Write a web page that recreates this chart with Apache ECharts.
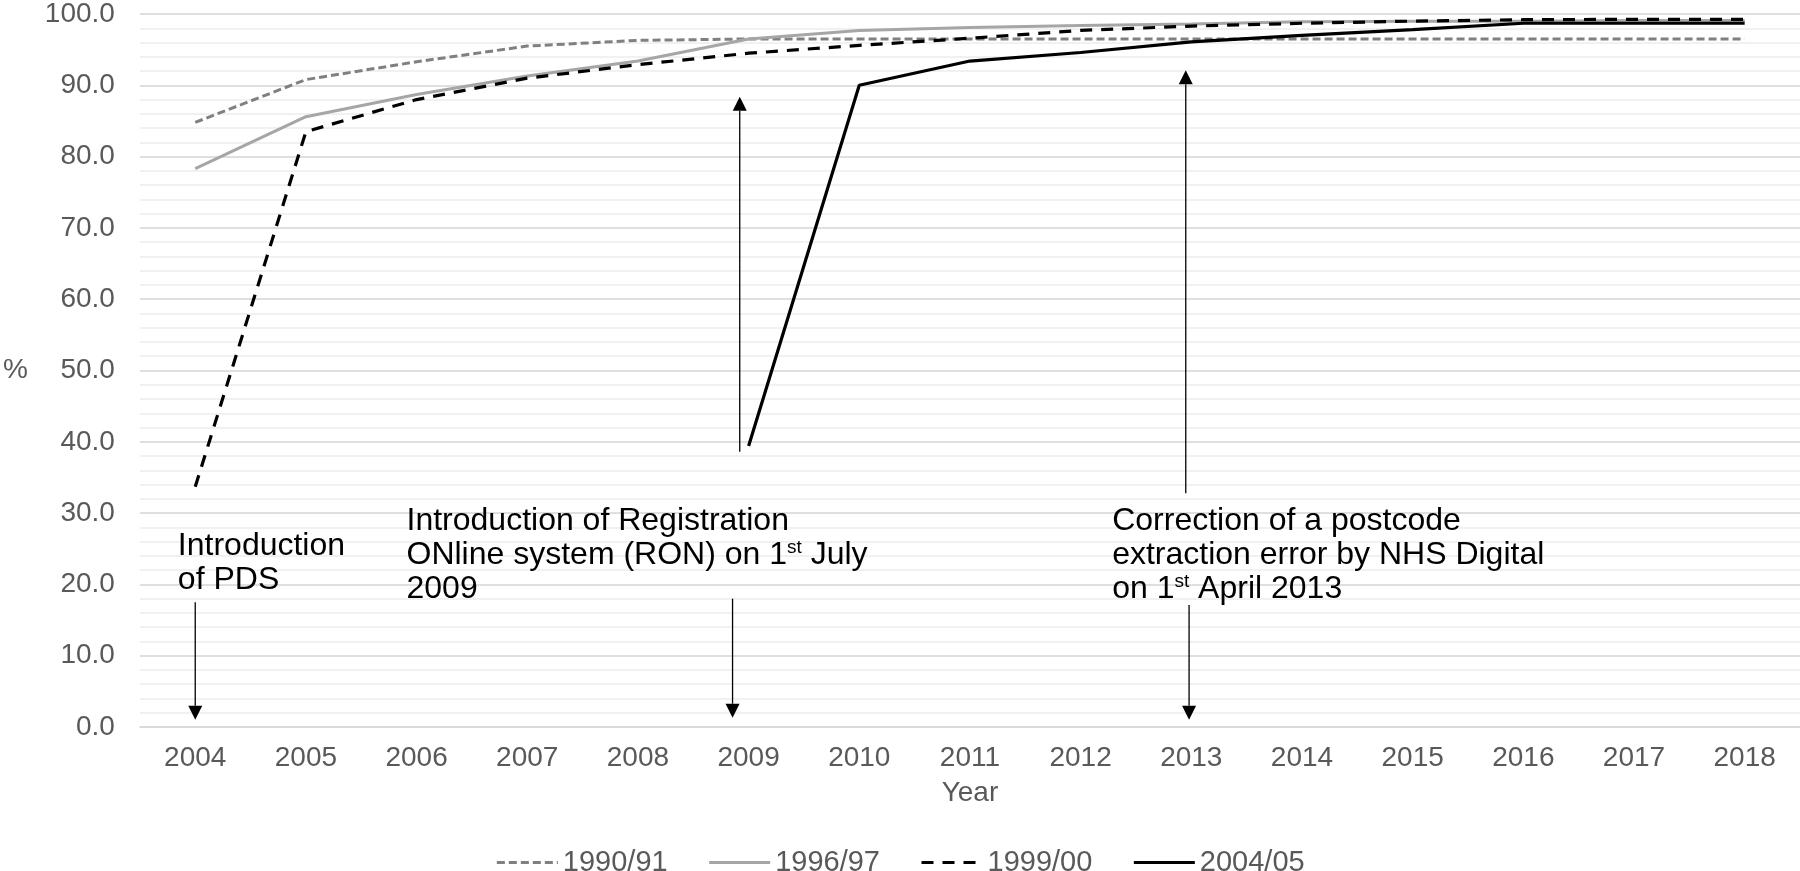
<!DOCTYPE html>
<html>
<head>
<meta charset="utf-8">
<title>Postcode completeness</title>
<script src="https://cdn.jsdelivr.net/npm/echarts@6/dist/echarts.min.js"></script>
<style>
  html, body { margin: 0; padding: 0; background: #fff; }
  #main { width: 1800px; height: 871px; }
</style>
</head>
<body>
<div id="main"></div>
<script>
const years = ['2004', '2005', '2006', '2007', '2008', '2009', '2010', '2011', '2012', '2013', '2014', '2015', '2016', '2017', '2018'];
const cohort1990 = [84.8, 90.8, 93.3, 95.5, 96.3, 96.5, 96.5, 96.5, 96.5, 96.5, 96.5, 96.5, 96.5, 96.5, 96.5];
const cohort1996 = [78.3, 85.6, 88.7, 91.3, 93.4, 96.5, 97.7, 98.1, 98.4, 98.6, 98.9, 99.0, 99.0, 99.1, 99.1];
const cohort1999 = [33.7, 83.5, 88.0, 91.0, 92.9, 94.5, 95.6, 96.6, 97.7, 98.3, 98.7, 99.0, 99.2, 99.25, 99.25];
const cohort2004 = [null, null, null, null, null, 39.4, 90.0, 93.4, 94.6, 96.1, 97.0, 97.8, 98.7, 98.7, 98.7];
const yTicks = [0, 10, 20, 30, 40, 50, 60, 70, 80, 90, 100];

const labelFont = 'Liberation Sans, Arial, Helvetica, sans-serif';
const grey = '#595959';

const chart = echarts.init(document.getElementById('main'));

const option = {
    animation: false,
    textStyle: { fontFamily: labelFont },
    grid: { left: 137, right: 0, top: 14, bottom: 144 },
    legend: {
        left: 'center',
        top: 843,
        itemWidth: 61,
        itemHeight: 14,
        itemGap: 40,
        itemStyle: { opacity: 0 },
        lineStyle: { width: 3 },
        textStyle: { fontSize: 29, color: grey, fontFamily: labelFont },
        data: ['1990/91', '1996/97', '1999/00', '2004/05'],
    },
    xAxis: {
        type: 'category',
        data: years,
        name: 'Year',
        nameLocation: 'middle',
        nameGap: 52,
        nameTextStyle: { fontSize: 28, color: grey },
        axisLine: { lineStyle: { color: '#d9d9d9', width: 1.5 } },
        axisTick: { show: false },
        axisLabel: { fontSize: 28, color: grey, margin: 17 },
    },
    yAxis: {
        type: 'value',
        min: yTicks[0],
        max: yTicks[yTicks.length - 1],
        interval: 10,
        name: '%',
        nameLocation: 'middle',
        nameRotate: 0,
        nameGap: 112,
        nameTextStyle: { fontSize: 28, color: grey },
        axisLine: { show: false },
        axisTick: { show: false },
        axisLabel: {
            fontSize: 28,
            color: grey,
            margin: 25,
            formatter: (v) => v.toFixed(1),
        },
        splitLine: { lineStyle: { color: '#d4d4d4', width: 1.5 } },
        minorTick: { show: false, splitNumber: 5 },
        minorSplitLine: { show: true, lineStyle: { color: '#ededed', width: 1.5 } },
    },
    series: [
        {
            name: '1990/91',
            type: 'line',
            data: cohort1990,
            symbol: 'none',
            lineStyle: { color: '#808080', width: 3, type: [8, 4] },
            itemStyle: { color: '#808080' },
        },
        {
            name: '1996/97',
            type: 'line',
            data: cohort1996,
            symbol: 'none',
            lineStyle: { color: '#a6a6a6', width: 3 },
            itemStyle: { color: '#a6a6a6' },
        },
        {
            name: '1999/00',
            type: 'line',
            data: cohort1999,
            symbol: 'none',
            lineStyle: { color: '#000', width: 3.2, type: [12, 9] },
            itemStyle: { color: '#000' },
        },
        {
            name: '2004/05',
            type: 'line',
            data: cohort2004,
            symbol: 'none',
            lineStyle: { color: '#000', width: 3.2 },
            itemStyle: { color: '#000' },
        },
    ],
};

chart.setOption(option);

// annotation arrows and notes, placed in data space (fractional category index, value)
function toPx(xi, v) {
    const a = chart.convertToPixel({ gridIndex: 0 }, [0, v]);
    const b = chart.convertToPixel({ gridIndex: 0 }, [1, v]);
    return [a[0] + xi * (b[0] - a[0]), a[1]];
}

function arrow(xi, from, to) {
    const p0 = toPx(xi, from);
    const p1 = toPx(xi, to);
    const dir = p1[1] > p0[1] ? 1 : -1;
    const head = 14;
    return [
        {
            type: 'line',
            shape: { x1: p0[0], y1: p0[1], x2: p1[0], y2: p1[1] - dir * head },
            style: { stroke: '#000', lineWidth: 1.3 },
            z: 10,
        },
        {
            type: 'polygon',
            shape: {
                points: [
                    [p1[0], p1[1]],
                    [p1[0] - 7, p1[1] - dir * head],
                    [p1[0] + 7, p1[1] - dir * head],
                ],
            },
            style: { fill: '#000' },
            z: 10,
        },
    ];
}

function note(xi, v, text) {
    const p = toPx(xi, v);
    return {
        type: 'text',
        x: p[0],
        y: p[1],
        z: 10,
        style: {
            text: text,
            fill: '#000',
            font: '32px ' + labelFont,
            lineHeight: 34,
            rich: {
                sup: { fontSize: 19, lineHeight: 19, verticalAlign: 'top', fill: '#000', fontFamily: labelFont },
            },
        },
    };
}

const graphics = [].concat(
    arrow(0, 17.5, 1.0),
    arrow(4.855, 18.0, 1.3),
    arrow(4.92, 38.6, 88.4),
    arrow(8.95, 32.8, 92.1),
    arrow(8.98, 17.1, 1.0),
    [
        note(-0.157, 27.8, 'Introduction\nof PDS'),
        note(1.909, 31.3, 'Introduction of Registration\nONline system (RON) on 1{sup|st} July\n2009'),
        note(8.285, 31.2, 'Correction of a postcode\nextraction error by NHS Digital\non 1{sup|st} April 2013'),
    ]
);

chart.setOption({ graphic: graphics });
</script>
</body>
</html>
